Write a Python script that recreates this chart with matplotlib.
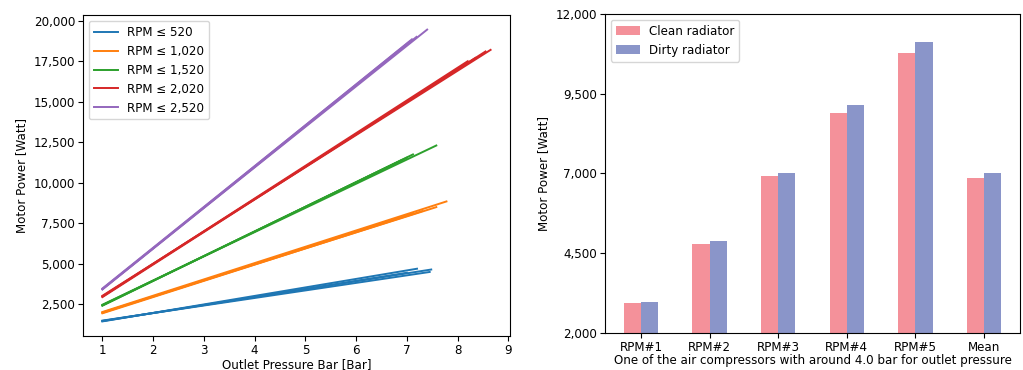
import matplotlib
matplotlib.use("Agg")
import matplotlib.pyplot as plt
import numpy as np
from matplotlib.ticker import FuncFormatter

# ---------------- Left panel data ----------------
group_labels = ["RPM \u2264 520", "RPM \u2264 1,020", "RPM \u2264 1,520", "RPM \u2264 2,020", "RPM \u2264 2,520"]
start_pressure = 1.0
# start power for each line in each group
start_power = [
    [1450, 1480, 1500, 1470],
    [1950, 2000, 2030, 1980],
    [2420, 2450, 2480, 2440],
    [2950, 3000, 3030, 2980],
    [3420, 3450, 3480, 3440],
]
end_pressure = [
    [7.20, 7.48, 7.45, 7.00],
    [7.30, 7.58, 7.78, 7.10],
    [7.12, 7.00, 7.58, 6.90],
    [8.35, 8.55, 8.65, 8.20],
    [7.19, 7.40, 7.05, 7.10],
]
end_power = [
    [4700, 4650, 4500, 4450],
    [8250, 8500, 8850, 8100],
    [11750, 11550, 12300, 11400],
    [17700, 18100, 18200, 17500],
    [19000, 19450, 18700, 18850],
]
line_colors = ["#1f77b4", "#ff7f0e", "#2ca02c", "#d62728", "#9467bd"]

# ---------------- Right panel data ----------------
bar_categories = ["RPM#1", "RPM#2", "RPM#3", "RPM#4", "RPM#5", "Mean"]
clean_power = [2930, 4790, 6910, 8900, 10780, 6870]
dirty_power = [2970, 4870, 7000, 9150, 11120, 7000]

plt.rcParams["font.family"] = ["DejaVu Sans"]
fs = 8.6

fig = plt.figure(figsize=(10.23, 3.70), dpi=100)
ax1 = fig.add_axes([83 / 1023, 34 / 370, 427 / 1023, 321 / 370])
ax2 = fig.add_axes([605 / 1023, 37 / 370, 415 / 1023, 319 / 370])

comma = FuncFormatter(lambda v, p: f"{int(round(v)):,}")

for g in range(len(group_labels)):
    for i in range(len(start_power[g])):
        ax1.plot([start_pressure, end_pressure[g][i]],
                 [start_power[g][i], end_power[g][i]],
                 color=line_colors[g], lw=1.4,
                 label=group_labels[g] if i == 0 else None)

ax1.set_xticks(np.arange(1, 10))
ax1.set_yticks(np.arange(2500, 20001, 2500))
ax1.yaxis.set_major_formatter(comma)
ax1.tick_params(labelsize=fs, pad=2)
ax1.set_xlabel("Outlet Pressure Bar [Bar]", fontsize=fs, labelpad=1)
ax1.set_ylabel("Motor Power [Watt]", fontsize=fs)
ax1.legend(loc="upper left", fontsize=fs)

x = np.arange(len(bar_categories))
w = 0.25
ax2.bar(x - w / 2, clean_power, width=w, color="#F4919A", label="Clean radiator")
ax2.bar(x + w / 2, dirty_power, width=w, color="#8A95C9", label="Dirty radiator")
ax2.set_ylim(2000, 12000)
ax2.set_yticks(np.linspace(2000, 12000, 5))
ax2.yaxis.set_major_formatter(comma)
ax2.set_xticks(x)
ax2.set_xticklabels(bar_categories)
ax2.tick_params(labelsize=fs, pad=2)
ax2.set_xlabel("One of the air compressors with around 4.0 bar for outlet pressure", fontsize=fs, labelpad=0)
ax2.set_ylabel("Motor Power [Watt]", fontsize=fs)
ax2.legend(loc="upper left", fontsize=fs)

fig.savefig("out.png", dpi=100)
